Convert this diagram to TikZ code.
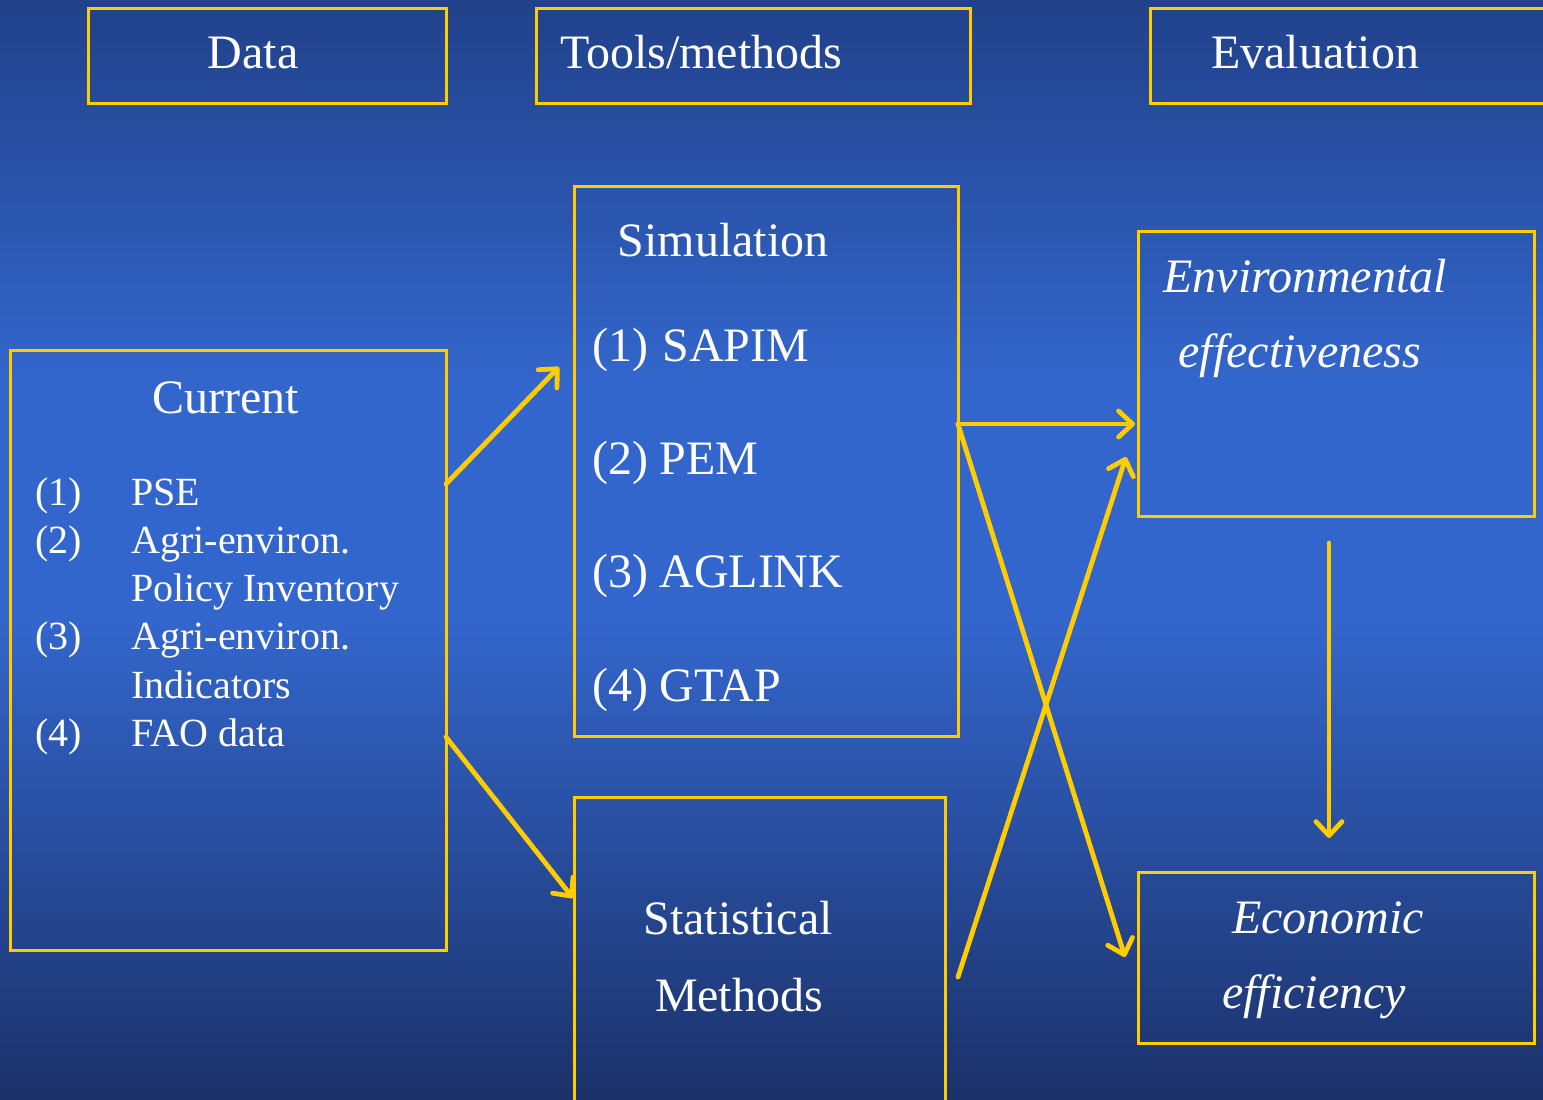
\documentclass[tikz,border=0pt]{standalone}
\usepackage{fontspec}
\setmainfont{Liberation Serif}
\usetikzlibrary{arrows.meta,fit}
\definecolor{bgtop}{HTML}{21418A}
\definecolor{bgmid}{HTML}{3366CC}
\definecolor{bgbot}{HTML}{1B3169}
\definecolor{gold}{HTML}{FFCC00}
\begin{document}
\begin{tikzpicture}[x=0.5pt,y=-0.5pt,
  box/.style={draw=gold, line width=1.5pt, inner sep=0pt, rectangle},
  title/.style={text=white, font=\fontsize{24}{28}\selectfont, inner sep=0pt, anchor=base},
  ltitle/.style={text=white, font=\fontsize{24}{28}\selectfont, inner sep=0pt, anchor=base west},
  item/.style={text=white, font=\fontsize{20}{24}\selectfont, inner sep=0pt, anchor=base west},
  conn/.style={draw=gold, line width=2.4pt, line cap=round, line join=round,
    -{Straight Barb[length=7pt,width=13pt,round]}}]
\useasboundingbox (0,0) rectangle (1543,1099);
\clip (0,0) rectangle (1543,1099);
% background gradient
\shade[top color=bgtop, bottom color=bgmid] (0,0) rectangle (1543,381);
\fill[bgmid] (0,380) rectangle (1543,621);
\shade[top color=bgmid, bottom color=bgbot] (0,620) rectangle (1543,1099);

% header boxes
\node[box, fit={(88,8) (446,103)}] (data) {};
\node[box, fit={(536,8) (970,103)}] (tools) {};
\node[box, fit={(1150,8) (1560,103)}] (eval) {};
\node[title] (datat) at (253,68) {Data};
\node[title] (toolst) at (701,68) {Tools/methods};
\node[title] (evalt) at (1315,68) {Evaluation};

% main boxes
\node[box, fit={(10,350) (446,950)}] (cur) {};
\node[box, fit={(574,186) (958,736)}] (sim) {};
\node[box, fit={(574,797) (945,1120)}] (stat) {};
\node[box, fit={(1138,231) (1534,516)}] (env) {};
\node[box, fit={(1138,872) (1534,1043)}] (econ) {};

% Current
\node[title] (curt) at (226,413) {Current};
\node[item] (n1) at (35,505) {(1)};
\node[item] (t1) at (131,505) {PSE};
\node[item] (n2) at (35,553) {(2)};
\node[item] (t2) at (131,553) {Agri-environ.};
\node[item] (t2b) at (131,601) {Policy Inventory};
\node[item] (n3) at (35,649) {(3)};
\node[item] (t3) at (131,649) {Agri-environ.};
\node[item] (t3b) at (131,698) {Indicators};
\node[item] (n4) at (35,746) {(4)};
\node[item] (t4) at (131,746) {FAO data};

% Simulation
\node[title] (simt) at (723,256) {Simulation};
\node[ltitle] (s1) at (592,361) {(1)\hspace{7pt}SAPIM};
\node[ltitle] (s2) at (592,474) {(2)\hspace{5.5pt}PEM};
\node[ltitle] (s3) at (592,587) {(3)\hspace{5.5pt}AGLINK};
\node[ltitle] (s4) at (592,701) {(4)\hspace{5.5pt}GTAP};

% Statistical
\node[title] (stat1) at (738,934) {Statistical};
\node[title] (stat2) at (739,1011) {Methods};

% Evaluation boxes
\node[ltitle] (env1) at (1163,292) {\itshape Environmental};
\node[ltitle] (env2) at (1178,367) {\itshape effectiveness};
\node[title] (econ1) at (1328,933) {\itshape Economic};
\node[title] (econ2) at (1314,1008) {\itshape efficiency};

% connector end points
\coordinate (a1s) at (446,484);
\coordinate (a1e) at (559,367);
\coordinate (a2s) at (446,737);
\coordinate (a2e) at (573,898);
\coordinate (a3s) at (958,424);
\coordinate (a3e) at (1135,424);
\coordinate (a4e) at (1125,957);
\coordinate (a5s) at (958,977);
\coordinate (a5e) at (1126,457);
\coordinate (a6s) at (1329,543);
\coordinate (a6e) at (1329,838);

\draw[conn] (a1s) -- (a1e);
\draw[conn] (a2s) -- (a2e);
\draw[conn] (a3s) -- (a3e);
\draw[conn] (a3s) -- (a4e);
\draw[conn] (a5s) -- (a5e);
\draw[conn] (a6s) -- (a6e);
\end{tikzpicture}
\end{document}
